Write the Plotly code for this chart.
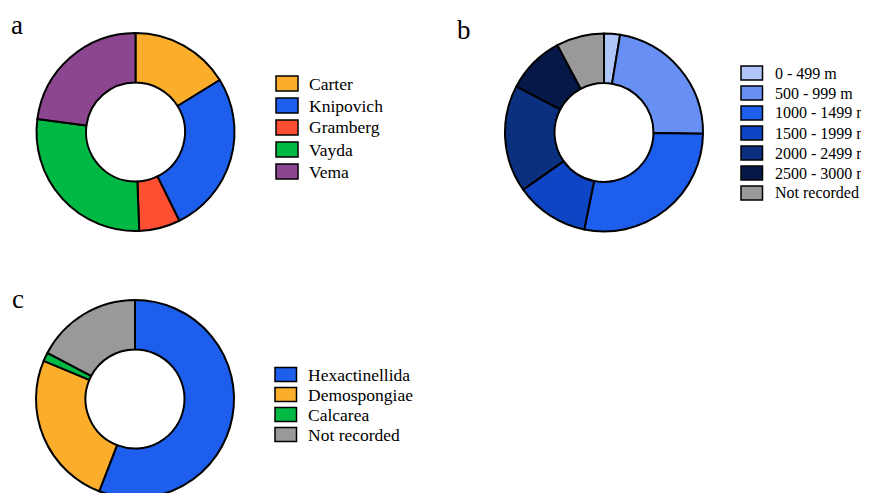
import plotly.graph_objects as go

W, H = 869, 493
OFF = 8  # page body margin offset

# ---- data ----
ridge_labels = ["Carter", "Knipovich", "Gramberg", "Vayda", "Vema"]
ridge_values = [16.2, 26.5, 6.7, 27.7, 22.9]
ridge_colors = ["#FBAE2C", "#1E5EEC", "#FE4F33", "#00B844", "#8C4690"]

depth_labels = ["0 - 499 m", "500 - 999 m", "1000 - 1499 m", "1500 - 1999 m",
                "2000 - 2499 m", "2500 - 3000 m", "Not recorded"]
depth_values = [2.6, 22.6, 28.0, 12.0, 17.5, 9.5, 7.8]
depth_colors = ["#B0C6FA", "#6890F4", "#1E5EEC", "#0E45C4", "#0B3080", "#061848", "#999999"]

class_labels = ["Hexactinellida", "Demospongiae", "Calcarea", "Not recorded"]
class_values = [55.9, 25.4, 1.4, 17.3]
class_colors = ["#1E5EEC", "#FBAE2C", "#00B844", "#999999"]

FONT = "Liberation Serif, Times New Roman, serif"


def px_x(x):
    return (x - OFF) / W


def px_y(y):
    return 1 - (y - OFF) / H


def donut(labels, values, colors, x0, x1, y0, y1):
    return go.Pie(
        labels=labels, values=values, sort=False, direction="clockwise",
        rotation=0, hole=0.5, textinfo="none", showlegend=False,
        marker=dict(colors=colors, line=dict(color="black", width=2)),
        domain=dict(x=[px_x(x0), px_x(x1)], y=[px_y(y1), px_y(y0)]),
    )


fig = go.Figure()
fig.add_trace(donut(ridge_labels, ridge_values, ridge_colors, 36.5, 234.5, 33, 231))
fig.add_trace(donut(depth_labels, depth_values, depth_colors, 505, 703, 33.5, 231.5))
fig.add_trace(donut(class_labels, class_values, class_colors, 36, 234, 300, 498))

shapes = []
annotations = []


def legend(labels, colors, bx, by, step, bw, bh, tx, size):
    for i, (lab, col) in enumerate(zip(labels, colors)):
        yc = by + i * step
        shapes.append(dict(type="rect", xref="paper", yref="paper",
                           x0=px_x(bx), x1=px_x(bx + bw),
                           y0=px_y(yc + bh / 2), y1=px_y(yc - bh / 2),
                           fillcolor=col, line=dict(color="black", width=1.5)))
        annotations.append(dict(text=lab, xref="paper", yref="paper",
                                x=px_x(tx), y=px_y(yc), xanchor="left", yanchor="middle",
                                showarrow=False, font=dict(family=FONT, size=size, color="black")))


legend(ridge_labels, ridge_colors, 276, 83.5, 22, 22, 15, 307, 17.5)
legend(depth_labels, depth_colors, 741, 73, 20, 21.5, 14, 773, 16)
legend(class_labels, class_colors, 275, 374.5, 20, 21.5, 14, 306, 17.5)

for lab, x, y in [("a", 9, 25), ("b", 455, 30), ("c", 10, 299)]:
    annotations.append(dict(text=lab, xref="paper", yref="paper", x=px_x(x), y=px_y(y),
                            xanchor="left", yanchor="middle", showarrow=False,
                            font=dict(family=FONT, size=27, color="black")))

fig.update_layout(width=W, height=H, margin=dict(l=0, r=0, t=0, b=0),
                  paper_bgcolor="white", plot_bgcolor="white",
                  shapes=shapes, annotations=annotations)

fig.write_html("out.html")
